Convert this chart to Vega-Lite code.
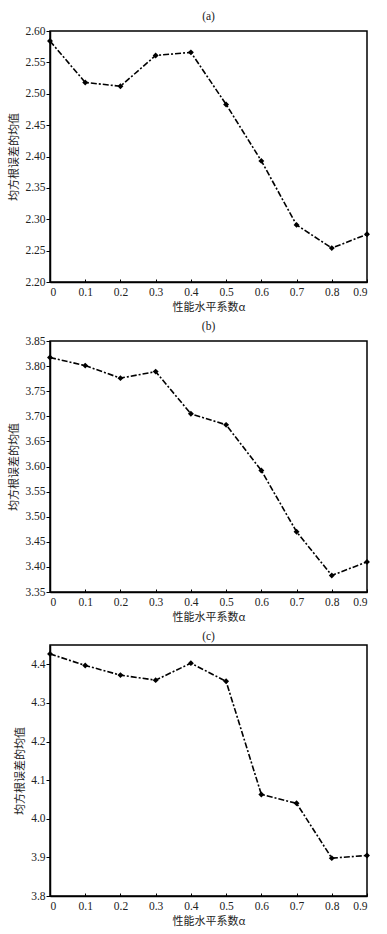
{
  "$schema": "https://vega.github.io/schema/vega-lite/v6.json",
  "background": "white",
  "padding": {"left": 8, "top": 9, "right": 5, "bottom": 5},
  "spacing": 5,
  "datasets": {
    "a": [
      {"alpha": 0.0, "rmse": 2.584},
      {"alpha": 0.1, "rmse": 2.518},
      {"alpha": 0.2, "rmse": 2.512},
      {"alpha": 0.3, "rmse": 2.561},
      {"alpha": 0.4, "rmse": 2.566},
      {"alpha": 0.5, "rmse": 2.483},
      {"alpha": 0.6, "rmse": 2.393},
      {"alpha": 0.7, "rmse": 2.291},
      {"alpha": 0.8, "rmse": 2.254},
      {"alpha": 0.9, "rmse": 2.276}
    ],
    "b": [
      {"alpha": 0.0, "rmse": 3.817},
      {"alpha": 0.1, "rmse": 3.801},
      {"alpha": 0.2, "rmse": 3.776},
      {"alpha": 0.3, "rmse": 3.789},
      {"alpha": 0.4, "rmse": 3.705},
      {"alpha": 0.5, "rmse": 3.683},
      {"alpha": 0.6, "rmse": 3.592},
      {"alpha": 0.7, "rmse": 3.470},
      {"alpha": 0.8, "rmse": 3.383},
      {"alpha": 0.9, "rmse": 3.410}
    ],
    "c": [
      {"alpha": 0.0, "rmse": 4.427},
      {"alpha": 0.1, "rmse": 4.397},
      {"alpha": 0.2, "rmse": 4.372},
      {"alpha": 0.3, "rmse": 4.359},
      {"alpha": 0.4, "rmse": 4.403},
      {"alpha": 0.5, "rmse": 4.356},
      {"alpha": 0.6, "rmse": 4.063},
      {"alpha": 0.7, "rmse": 4.040},
      {"alpha": 0.8, "rmse": 3.898},
      {"alpha": 0.9, "rmse": 3.905}
    ]
  },
  "config": {
    "view": {"stroke": "black", "strokeWidth": 1.5},
    "axis": {
      "grid": false,
      "labelFont": "Liberation Serif",
      "labelFontSize": 11.5,
      "labelColor": "#222",
      "titleFont": "Noto Sans CJK SC",
      "titleFontSize": 11,
      "titleFontWeight": "normal",
      "titleColor": "#222",
      "domainColor": "black",
      "domainWidth": 1.5,
      "tickColor": "black",
      "tickWidth": 1
    },
    "axisX": {
      "tickSize": -3,
      "labelPadding": 7,
      "titlePadding": 4,
      "labelExpr": "datum.value == 0 ? '0' : format(datum.value, '.1f')"
    },
    "axisY": {"tickSize": 4, "labelPadding": 1, "titlePadding": 5},
    "title": {"font": "Liberation Serif", "fontSize": 11.5, "fontWeight": "normal", "color": "#222", "offset": 3}
  },
  "vconcat": [
    {
      "title": "(a)",
      "width": 317,
      "height": 251,
      "data": {"name": "a"},
      "encoding": {
        "x": {"field": "alpha", "type": "quantitative", "scale": {"domain": [0, 0.9], "nice": false, "zero": false},
              "axis": {"title": "性能水平系数α", "values": [0, 0.1, 0.2, 0.3, 0.4, 0.5, 0.6, 0.7, 0.8, 0.9]}},
        "y": {"field": "rmse", "type": "quantitative", "scale": {"domain": [2.2, 2.6], "nice": false, "zero": false},
              "axis": {"title": "均方根误差的均值", "format": ".2f", "values": [2.2, 2.25, 2.3, 2.35, 2.4, 2.45, 2.5, 2.55, 2.6]}}
      },
      "layer": [
        {"mark": {"type": "line", "color": "black", "strokeWidth": 1.6, "strokeDash": [6, 2, 2, 2]}},
        {"mark": {"type": "point", "shape": "diamond", "filled": true, "color": "black", "size": 35, "opacity": 1}}
      ]
    },
    {
      "title": "(b)",
      "width": 317,
      "height": 251,
      "data": {"name": "b"},
      "encoding": {
        "x": {"field": "alpha", "type": "quantitative", "scale": {"domain": [0, 0.9], "nice": false, "zero": false},
              "axis": {"title": "性能水平系数α", "values": [0, 0.1, 0.2, 0.3, 0.4, 0.5, 0.6, 0.7, 0.8, 0.9]}},
        "y": {"field": "rmse", "type": "quantitative", "scale": {"domain": [3.35, 3.85], "nice": false, "zero": false},
              "axis": {"title": "均方根误差的均值", "format": ".2f", "values": [3.35, 3.4, 3.45, 3.5, 3.55, 3.6, 3.65, 3.7, 3.75, 3.8, 3.85]}}
      },
      "layer": [
        {"mark": {"type": "line", "color": "black", "strokeWidth": 1.6, "strokeDash": [6, 2, 2, 2]}},
        {"mark": {"type": "point", "shape": "diamond", "filled": true, "color": "black", "size": 35, "opacity": 1}}
      ]
    },
    {
      "title": "(c)",
      "width": 317,
      "height": 251,
      "data": {"name": "c"},
      "encoding": {
        "x": {"field": "alpha", "type": "quantitative", "scale": {"domain": [0, 0.9], "nice": false, "zero": false},
              "axis": {"title": "性能水平系数α", "values": [0, 0.1, 0.2, 0.3, 0.4, 0.5, 0.6, 0.7, 0.8, 0.9]}},
        "y": {"field": "rmse", "type": "quantitative", "scale": {"domain": [3.8, 4.45], "nice": false, "zero": false},
              "axis": {"title": "均方根误差的均值", "format": ".1f", "values": [3.8, 3.9, 4.0, 4.1, 4.2, 4.3, 4.4]}}
      },
      "layer": [
        {"mark": {"type": "line", "color": "black", "strokeWidth": 1.6, "strokeDash": [6, 2, 2, 2]}},
        {"mark": {"type": "point", "shape": "diamond", "filled": true, "color": "black", "size": 35, "opacity": 1}}
      ]
    }
  ]
}
